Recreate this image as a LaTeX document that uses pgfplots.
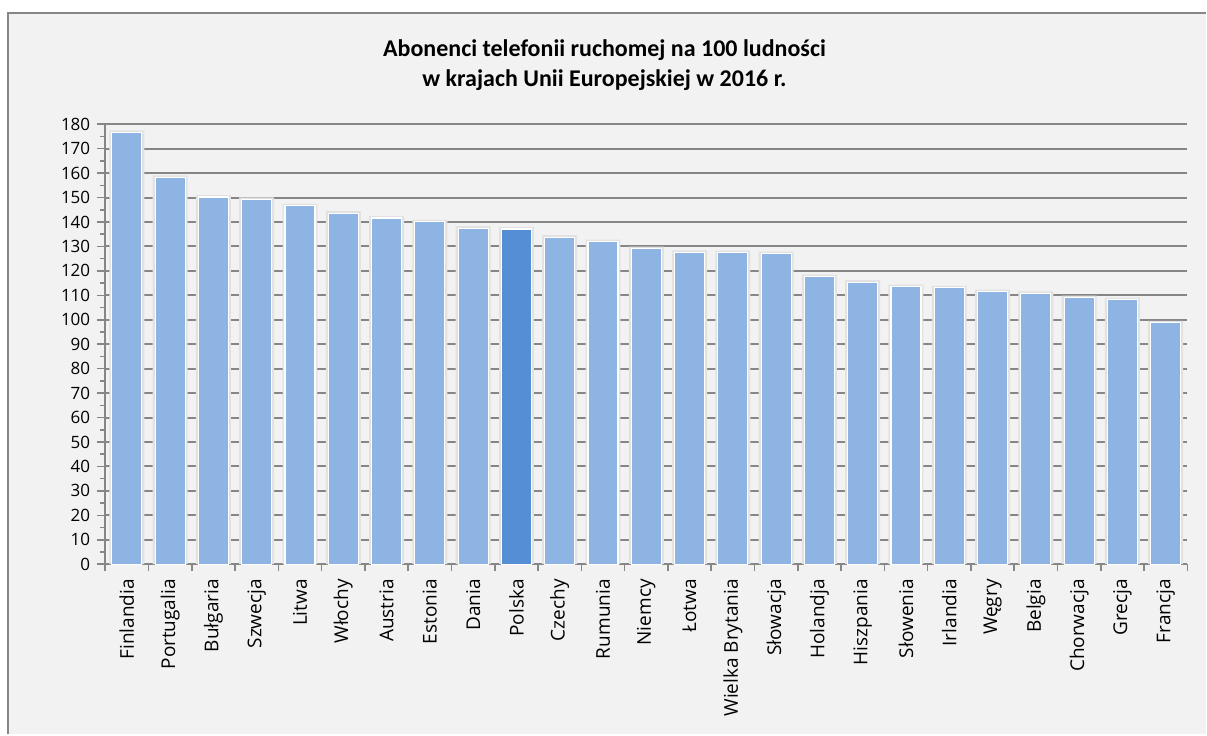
\documentclass[border=0pt]{standalone}
\usepackage{fontspec}
\setmainfont{Open Sans}
\newfontfamily\titlefont{Carlito}
\usepackage{pgfplots}
\usepackage{pgfplotstable}
\pgfplotsset{compat=1.18}

\definecolor{barblue}{RGB}{141,180,226}
\definecolor{bardark}{RGB}{85,142,213}
\definecolor{panel}{RGB}{242,242,242}
\definecolor{gridgray}{RGB}{134,134,134}
\definecolor{shadowgray}{RGB}{226,226,226}

% abonenci na 100 ludnosci, 2016 (Polska osobno)
\pgfplotstableread{
idx val
0 176.7
1 158.3
2 150.2
3 149.3
4 146.6
5 143.6
6 141.6
7 140.1
8 137.5
10 133.8
11 132.0
12 129.1
13 127.6
14 127.5
15 127.1
16 117.7
17 115.4
18 113.6
19 113.1
20 111.5
21 110.8
22 109.1
23 108.2
24 98.8
}\mobile

\begin{document}
\begin{tikzpicture}
% panel behind the chart (1px = 0.5pt)
\fill[white] (-52.65pt,282.35pt) rectangle (550.85pt,-85.15pt);
\fill[panel] (-48.65pt,275.85pt) rectangle (550.85pt,-85.15pt);
\draw[gridgray, line width=1pt] (-48.65pt,-85.15pt) -- (-48.65pt,275.85pt) -- (550.85pt,275.85pt);

\node[font=\titlefont\bfseries\fontsize{12}{15}\selectfont, anchor=base]
  at (249.85pt,253.85pt) {Abonenci telefonii ruchomej na 100 ludności};
\node[font=\titlefont\bfseries\fontsize{12}{15}\selectfont, anchor=base]
  at (249.85pt,238.85pt) {w krajach Unii Europejskiej w 2016 r.};

\begin{axis}[
    at={(0pt,0pt)}, anchor=south west,
    scale only axis,
    width=541.5pt, height=220.2pt,
    xmin=-0.5, xmax=24.5,
    ymin=0, ymax=180,
    axis x line*=bottom, axis y line*=left,
    axis line style={gridgray, line width=1pt},
    ytick={0,10,...,180},
    minor y tick num=1,
    ymajorgrids,
    major grid style={gridgray, line width=1pt},
    xtick={0,...,24},
    xticklabels={Finlandia,Portugalia,Bułgaria,Szwecja,Litwa,Włochy,Austria,Estonia,Dania,Polska,Czechy,Rumunia,Niemcy,Łotwa,Wielka Brytania,Słowacja,Holandja,Hiszpania,Słowenia,Irlandia,Węgry,Belgia,Chorwacja,Grecja,Francja},
    minor xtick={-0.5,0.5,...,24.5},
    tick align=outside,
    major tick length=4pt, minor tick length=2.5pt,
    x tick style={draw=none},
    minor x tick style={draw=gridgray, line width=0.8pt, /pgfplots/minor tick length=3.5pt},
    y tick style={gridgray, line width=0.8pt},
    minor y tick style={gridgray, line width=0.8pt},
    xticklabel style={rotate=90, anchor=east, font=\fontsize{9.5}{11}\selectfont},
    yticklabel style={font=\fontsize{8.5}{10}\selectfont},
    /pgf/number format/assume math mode=true,
    ybar, bar width=15pt,
]
\addplot[fill=shadowgray, draw=none, bar width=17.5pt, bar shift=0pt]
  table[x=idx, y expr=\thisrow{val}+0.8] {\mobile};
\addplot[fill=shadowgray, draw=none, bar width=17.5pt, bar shift=0pt]
  coordinates {(9,137.9)};
\addplot[fill=barblue, draw=white, line width=0.6pt, bar shift=0pt]
  table[x=idx, y=val] {\mobile};
\addplot[fill=bardark, draw=white, line width=0.6pt, bar shift=0pt]
  coordinates {(9,137.1)};
\end{axis}
\end{tikzpicture}
\end{document}
